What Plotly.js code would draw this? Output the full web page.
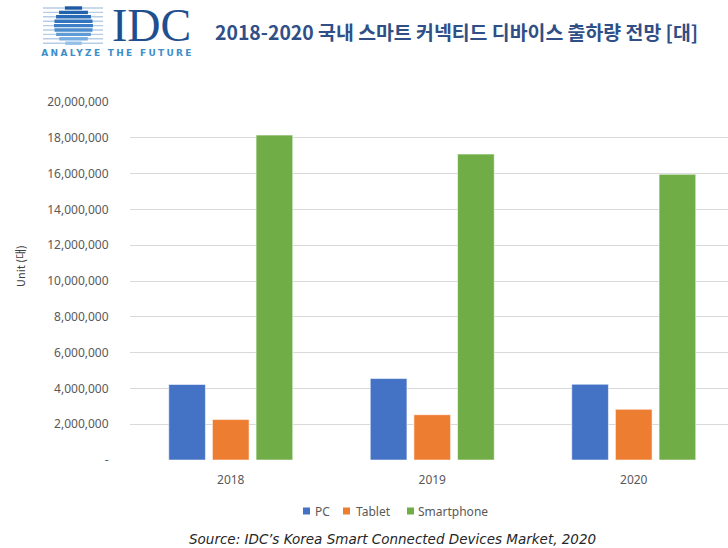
<!DOCTYPE html>
<html><head><meta charset="utf-8">
<script src="https://cdn.plot.ly/plotly-3.0.1.min.js"></script>
<style>html,body{margin:0;padding:0;background:#fff;}#chart{width:728px;height:548px;}</style>
</head><body><div id="chart"></div>
<script>
const categories = ['2018', '2019', '2020'];
const seriesNames = ['PC', 'Tablet', 'Smartphone'];
const pcValues = [4220000, 4550000, 4230000];
const tabletValues = [2260000, 2530000, 2830000];
const smartphoneValues = [18150000, 17090000, 15960000];
const yTickValues = [0, 2000000, 4000000, 6000000, 8000000, 10000000, 12000000, 14000000, 16000000, 18000000, 20000000];
const yTickLabels = ['-', '2,000,000', '4,000,000', '6,000,000', '8,000,000', '10,000,000', '12,000,000', '14,000,000', '16,000,000', '18,000,000', '20,000,000'];

const colors = ['#4472C4', '#ED7D31', '#70AD47'];
const W = 728, H = 548, L = 130, R = 0, T = 102, B = 88;
const pw = W - L - R, ph = H - T - B;
const px = x => (x - L) / pw;
const py = y => (H - B - y) / ph;

const font = 'Noto Sans, Open Sans, sans-serif';
const vals = [pcValues, tabletValues, smartphoneValues];
const traces = seriesNames.map((n, i) => ({
  type: 'bar', name: n, x: categories, y: vals[i],
  marker: {color: colors[i], line: {color: 'rgba(255,255,255,0.55)', width: 1}},
  hoverinfo: 'none', showlegend: false
}));

const shapes = [];
const annotations = [];

// legend (compact, like the reference): small squares + labels
const legendSquares = [303, 343, 407];
const legendTexts = [313, 354, 416];
seriesNames.forEach((n, i) => {
  shapes.push({type: 'rect', xref: 'paper', yref: 'paper', x0: px(legendSquares[i]), x1: px(legendSquares[i] + 7),
    y0: py(514.5), y1: py(507.5), fillcolor: colors[i], line: {width: 0}});
  annotations.push({text: n, xref: 'paper', yref: 'paper', x: px(legendTexts[i]), y: py(511), xanchor: 'left', yanchor: 'middle',
    showarrow: false, font: {family: font, size: 12, color: '#595959'}});
});

// IDC logo shapes (decorative)
const cx = 73.5, cy = 25.5, r = 19.5;
const bandColors = ['#1c5aa3', '#2262ad', '#2a6bb6', '#3374be', '#3d7fc6', '#4d8ccd', '#5f9bd5', '#77addf', '#92c0e8'];
for (let k = 0; k < 9; k++) {
  const yc = 8 + k * 4.4;
  shapes.push({type: 'rect', xref: 'paper', yref: 'paper', x0: px(43), x1: px(103), y0: py(yc + 0.7), y1: py(yc - 0.7),
    fillcolor: '#b7cde6', line: {width: 0}, layer: 'above'});
  const dy = yc - cy;
  const half = Math.sqrt(Math.max(r * r - dy * dy, 0));
  if (half > 2) {
    shapes.push({type: 'rect', xref: 'paper', yref: 'paper', x0: px(cx - half), x1: px(cx + half), y0: py(yc + 1.7), y1: py(yc - 1.7),
      fillcolor: bandColors[k], line: {width: 0}, layer: 'above'});
  }
}

annotations.push(
  {text: 'Unit (대)', xref: 'paper', yref: 'paper', x: px(20), y: py(266), xanchor: 'center', yanchor: 'middle', textangle: -90,
    showarrow: false, font: {family: 'Noto Sans CJK KR, Noto Sans, sans-serif', size: 11, color: '#404040'}},
  {text: 'Source: IDC\u2019s Korea Smart Connected Devices Market, 2020', xref: 'paper', yref: 'paper',
    x: px(392), y: py(539), xanchor: 'center', yanchor: 'middle', showarrow: false,
    font: {family: 'DejaVu Sans, sans-serif', size: 13.5, color: '#262626', style: 'italic'}},
  {text: 'IDC', xref: 'paper', yref: 'paper', x: px(151), y: py(24.5), xanchor: 'center', yanchor: 'middle', showarrow: false,
    height: 40, font: {family: 'Liberation Serif, DejaVu Serif, serif', size: 46, color: '#1f4f8f'}},
  {text: 'ANALYZE THE FUTURE', xref: 'paper', yref: 'paper', x: px(117), y: py(53.5), xanchor: 'center', yanchor: 'middle', showarrow: false,
    font: {family: 'DejaVu Sans, sans-serif', size: 9, color: '#3d8fcb', weight: 'bold'}}
);

const layout = {
  width: W, height: H,
  margin: {l: L, r: R, t: T, b: B, pad: 0},
  paper_bgcolor: '#ffffff', plot_bgcolor: '#ffffff',
  font: {family: font, size: 12, color: '#595959'},
  title: {text: '2018-2020 국내 스마트 커넥티드 디바이스 출하량 전망 [대]',
    font: {family: 'Noto Sans CJK KR, Noto Sans, sans-serif', size: 19.4, color: '#2f4f86', weight: 'bold'},
    x: 215 / W, xanchor: 'left', xref: 'container', y: 1 - 33 / H, yanchor: 'middle', yref: 'container'},
  barmode: 'group', bargap: 0.35, bargroupgap: 0.16,
  xaxis: {type: 'category', range: [-0.5, -0.5 + pw / 201.5], showgrid: false, zeroline: false, showline: false,
    ticks: 'outside', ticklen: 9, tickcolor: 'rgba(0,0,0,0)', tickfont: {size: 12, color: '#595959'}, fixedrange: true},
  yaxis: {range: [0, 20000000], tickvals: yTickValues, ticktext: yTickLabels, showgrid: true, gridcolor: '#d9d9d9', gridwidth: 1,
    zeroline: false, showline: false, ticks: 'outside', ticklen: 18, tickcolor: 'rgba(0,0,0,0)',
    tickfont: {size: 12, color: '#595959'}, fixedrange: true},
  showlegend: false,
  shapes: shapes,
  annotations: annotations
};

Plotly.newPlot('chart', traces, layout, {displayModeBar: false, staticPlot: true}).then(() => {
  document.querySelectorAll('.annotation-text').forEach(t => {
    if (t.textContent === 'ANALYZE THE FUTURE') t.style.letterSpacing = '2.3px';
  });
});
</script>
</body></html>
